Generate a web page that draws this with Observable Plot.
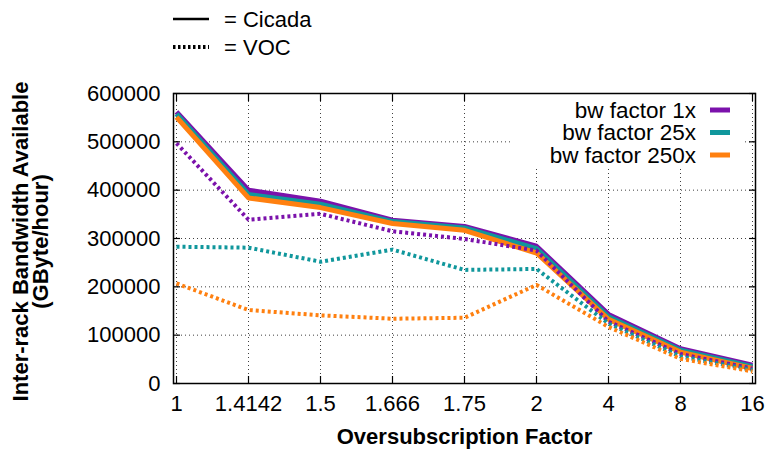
<!DOCTYPE html>
<html>
<head>
<meta charset="utf-8">
<script src="https://cdn.jsdelivr.net/npm/d3@7"></script>
<script src="https://cdn.jsdelivr.net/npm/@observablehq/plot@0.6"></script>
<style>
  body { margin: 0; background: #fff; font-family: "Liberation Sans", Arial, sans-serif; }
  #legendTop { display: block; }
</style>
</head>
<body>
<svg id="legendTop" width="770" height="62" font-family="Liberation Sans, Arial, sans-serif" font-size="22">
  <line x1="173" x2="209" y1="19" y2="19" stroke="#000" stroke-width="2.5"></line>
  <text x="224" y="19" dy="0.35em">= Cicada</text>
  <line x1="173" x2="209" y1="47" y2="47" stroke="#000" stroke-width="4" stroke-dasharray="2.5,2.5"></line>
  <text x="224" y="47" dy="0.35em">= VOC</text>
</svg>
<div id="chart"></div>
<script>
const categories = ["1", "1.4142", "1.5", "1.666", "1.75", "2", "4", "8", "16"];
const yTicks = [0, 100000, 200000, 300000, 400000, 500000, 600000];
const seriesNames = ["bw factor 1x", "bw factor 25x", "bw factor 250x"];
const seriesColors = ["#7b12ab", "#10979c", "#ff8010"];

const cicada1   = [562000, 400000, 377000, 338000, 325000, 284000, 143000, 72000, 38000];
const cicada25  = [558000, 391000, 371000, 335000, 322000, 279000, 138000, 69000, 35000];
const cicada250 = [551000, 384000, 364000, 331000, 317000, 270000, 133000, 65000, 31000];
const voc1      = [497000, 339000, 351000, 315000, 299000, 275000, 128000, 61000, 31000];
const voc25     = [283000, 281000, 252000, 277000, 235000, 237000, 124000, 56000, 28000];
const voc250    = [207000, 152000, 141000, 134000, 136000, 204000, 117000, 51000, 25000];

function rows(values, series, kind) {
  return values.map((v, i) => ({x: categories[i], y: v, series, kind}));
}
const cicadaData = [
  ...rows(cicada1, seriesNames[0], "Cicada"),
  ...rows(cicada25, seriesNames[1], "Cicada"),
  ...rows(cicada250, seriesNames[2], "Cicada")
];
const vocData = [
  ...rows(voc1, seriesNames[0], "VOC"),
  ...rows(voc25, seriesNames[1], "VOC"),
  ...rows(voc250, seriesNames[2], "VOC")
];

const font = "Liberation Sans, Arial, sans-serif";
const plot = Plot.plot({
  width: 770,
  height: 389,
  marginTop: 31,
  marginBottom: 68,
  marginLeft: 173,
  marginRight: 15,
  style: {fontFamily: font, fontSize: "22px", color: "#000", background: "#fff"},
  x: {type: "point", domain: categories, padding: 0},
  y: {domain: [0, 600000]},
  color: {domain: seriesNames, range: seriesColors},
  marks: [
    Plot.gridX(categories, {stroke: "#000", strokeOpacity: 0.75, strokeDasharray: "1,3", strokeWidth: 1}),
    Plot.gridY(yTicks, {stroke: "#000", strokeOpacity: 0.75, strokeDasharray: "1,3", strokeWidth: 1}),
    Plot.axisY(yTicks, {anchor: "left", tickSize: 0, tickPadding: 13, tickFormat: d => String(d), fontSize: 22, label: null}),
    Plot.axisX(categories, {anchor: "bottom", tickSize: 0, tickPadding: 12, fontSize: 22, label: null}),
    Plot.axisY(yTicks, {anchor: "left", tickSize: 7, dx: 7, tickFormat: () => "", label: null, strokeWidth: 1.2}),
    Plot.axisY(yTicks, {anchor: "right", tickSize: 7, dx: -7, tickFormat: () => "", label: null, strokeWidth: 1.2}),
    Plot.axisX(categories, {anchor: "bottom", tickSize: 7, dy: -7, tickFormat: () => "", label: null, strokeWidth: 1.2}),
    Plot.axisX(categories, {anchor: "top", tickSize: 7, dy: 7, tickFormat: () => "", label: null, strokeWidth: 1.2}),
    Plot.line(cicadaData, {x: "x", y: "y", z: "series", stroke: "series", strokeWidth: 5, strokeLinejoin: "miter", strokeLinecap: "butt"}),
    Plot.line(vocData, {x: "x", y: "y", z: "series", stroke: "series", strokeWidth: 4, strokeDasharray: "3,3", strokeLinecap: "butt"}),
    Plot.frame({stroke: "#000", strokeWidth: 1.5}),
    Plot.text(["Inter-rack Bandwidth Available\n(GByte/hour)"], {frameAnchor: "left", dx: -142, dy: 3, rotate: -90, textAnchor: "middle", fontWeight: "bold", fontSize: 22, lineHeight: 0.92, text: d => d}),
    Plot.text(["Oversubscription Factor"], {frameAnchor: "bottom", dy: 60, fontWeight: "bold", fontSize: 22, text: d => d})
  ]
});
document.getElementById("chart").appendChild(plot);

// Inner legend (opaque key box)
const svg = d3.select(plot);
const firstLine = plot.querySelector('g[aria-label="line"]');
const box = document.createElementNS("http://www.w3.org/2000/svg", "rect");
box.setAttribute("x", 512); box.setAttribute("y", 32);
box.setAttribute("width", 232); box.setAttribute("height", 72);
box.setAttribute("fill", "#fff");
plot.insertBefore(box, firstLine);
const lg = svg.append("g").attr("font-family", font).attr("font-size", 22.5);
seriesNames.forEach((name, i) => {
  const yy = 48 + i * 22.5;
  lg.append("text").attr("x", 696).attr("y", yy).attr("dy", "0.35em").attr("text-anchor", "end").attr("fill", "#000").text(name);
  lg.append("line").attr("x1", 710).attr("x2", 730).attr("y1", yy).attr("y2", yy).attr("stroke", seriesColors[i]).attr("stroke-width", 5);
});
</script>
</body>
</html>
